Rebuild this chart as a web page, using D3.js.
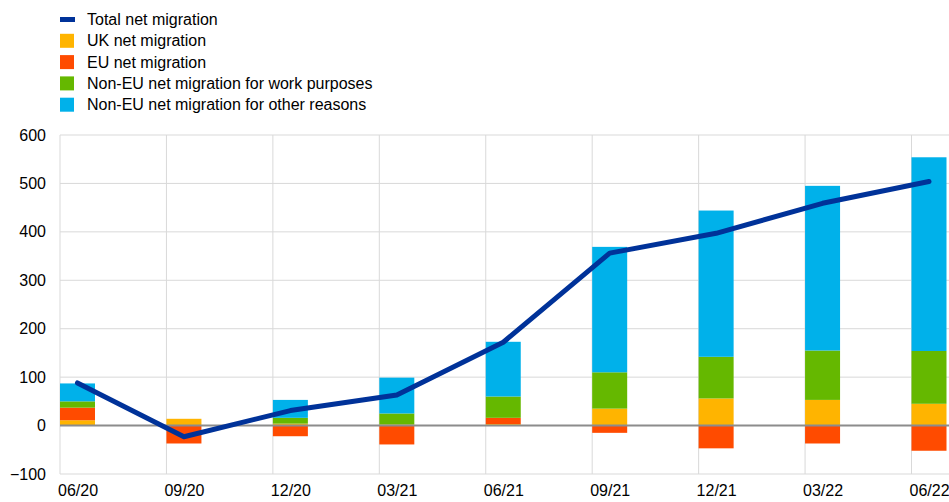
<!DOCTYPE html>
<html><head><meta charset="utf-8">
<script src="https://cdn.jsdelivr.net/npm/d3@7"></script>
<style>body{margin:0;background:#fff}svg{display:block}text{font-family:"Liberation Sans",Arial,sans-serif;fill:#000}</style>
</head><body><svg id="c" width="949" height="502"></svg>
<script>
const categories = ["06/20","09/20","12/20","03/21","06/21","09/21","12/21","03/22","06/22"];
const ukNet      = [11, 14, 4, 2, 3, 35, 56, 53, 45];
const euNet      = [26, -37, -22, -39, 13, -15, -47, -37, -52];
const nonEuWork  = [13, 0, 12, 23, 44, 75, 86, 102, 109];
const nonEuOther = [37, 0, 37, 74, 113, 259, 302, 340, 400];
const totalNet   = [88, -23, 31, 63, 172, 356, 397, 459, 504];
const yTicks = [-100, 0, 100, 200, 300, 400, 500, 600];
const seriesNames = ["Total net migration","UK net migration","EU net migration","Non-EU net migration for work purposes","Non-EU net migration for other reasons"];
const colors = ["#003299","#FFB400","#FF4B00","#65B800","#00B1EA"];

(function(){
const svg = d3.select("#c");
const pLeft = 60, pTop = 135, pBottom = 474;
const fs = 16;
const y = d3.scaleLinear().domain([-100, 600]).range([pBottom, pTop]);
const x = d3.scalePoint().domain(categories).range([77.5, 929]);
const barW = 35;

// horizontal gridlines
svg.append("g").selectAll("line").data(yTicks).join("line")
  .attr("x1", pLeft).attr("x2", 949).attr("y1", d => y(d)).attr("y2", d => y(d))
  .attr("stroke", "#d9d9d9").attr("stroke-width", 1);
// vertical gridlines
svg.append("g").selectAll("line").data(categories).join("line")
  .attr("x1", d => x(d) - barW/2).attr("x2", d => x(d) - barW/2)
  .attr("y1", pTop).attr("y2", pBottom)
  .attr("stroke", "#d9d9d9").attr("stroke-width", 1);

// stacked bars (positive and negative stacking)
const seriesVals = [ukNet, euNet, nonEuWork, nonEuOther];
const segs = [];
categories.forEach((c, i) => {
  let pos = 0, neg = 0;
  seriesVals.forEach((s, k) => {
    const v = s[i];
    if (v >= 0) { segs.push({cat: c, k, y0: pos, y1: pos + v}); pos += v; }
    else { segs.push({cat: c, k, y0: neg + v, y1: neg}); neg += v; }
  });
});
svg.append("g").selectAll("rect").data(segs.filter(s => s.y1 !== s.y0)).join("rect")
  .attr("x", d => x(d.cat) - barW/2).attr("width", barW)
  .attr("y", d => y(d.y1)).attr("height", d => y(d.y0) - y(d.y1))
  .attr("fill", d => colors[d.k + 1]);

// zero line
svg.append("line").attr("x1", pLeft).attr("x2", 949).attr("y1", y(0)).attr("y2", y(0))
  .attr("stroke", "#8c8c8c").attr("stroke-width", 2);

// total line
svg.append("path").datum(totalNet)
  .attr("d", d3.line().x((d, i) => x(categories[i])).y(d => y(d)))
  .attr("fill", "none").attr("stroke", colors[0]).attr("stroke-width", 5)
  .attr("stroke-linejoin", "round").attr("stroke-linecap", "round");

// y axis labels
const yAxis = d3.axisLeft(y).tickValues(yTicks).tickSize(0).tickPadding(14);
const ga = svg.append("g").attr("transform", `translate(${pLeft},0)`).call(yAxis);
ga.select(".domain").remove();
ga.selectAll("text").attr("font-size", fs).attr("font-family", "Liberation Sans, Arial, sans-serif").attr("fill", "#000");

// x axis labels
const xAxis = d3.axisBottom(x).tickSize(0).tickPadding(11);
const gx = svg.append("g").attr("transform", `translate(0,${pBottom})`).call(xAxis);
gx.select(".domain").remove();
gx.selectAll("text").attr("font-size", fs).attr("font-family", "Liberation Sans, Arial, sans-serif").attr("fill", "#000");

// legend
const lg = svg.append("g");
seriesNames.forEach((n, i) => {
  const cy = 19.5 + i * 21.3;
  if (i === 0) lg.append("rect").attr("x", 60).attr("y", cy - 2.5).attr("width", 15).attr("height", 5).attr("fill", colors[0]);
  else lg.append("rect").attr("x", 60).attr("y", cy - 7).attr("width", 14).attr("height", 14).attr("fill", colors[i]);
  lg.append("text").attr("x", 87).attr("y", cy).attr("dy", "0.35em").attr("font-size", fs).text(n);
});
})();
</script></body></html>
